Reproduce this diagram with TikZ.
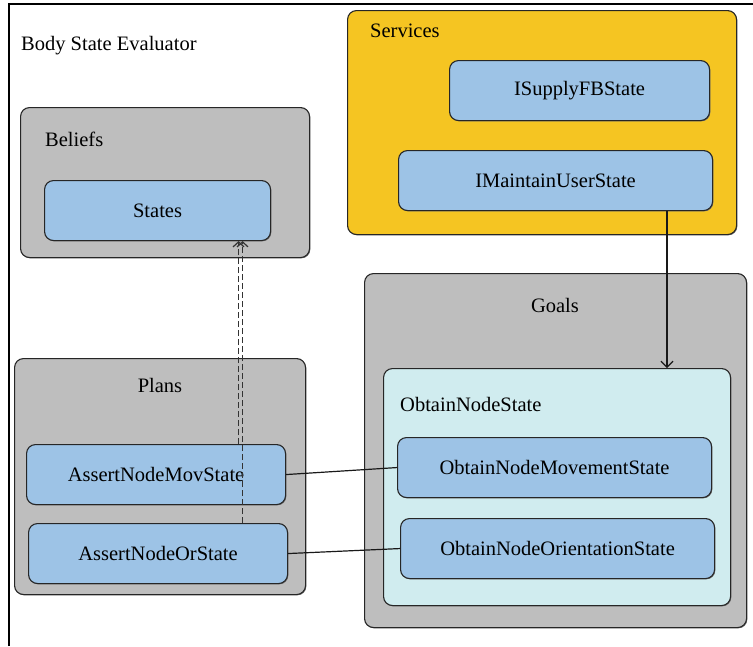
\documentclass[tikz,border=0pt]{standalone}
\usepackage{fontspec}
\setmainfont{Liberation Serif}
\usetikzlibrary{arrows.meta,shadows}
\definecolor{groupgray}{HTML}{BEBEBE}
\definecolor{itemblue}{HTML}{9DC3E6}
\definecolor{svcyellow}{HTML}{F5C522}
\definecolor{goalcyan}{HTML}{D0ECEF}
\tikzset{
  base/.style={draw=black!85, line width=1.1pt, rounded corners=9pt, anchor=north west,
    inner sep=0pt, drop shadow={shadow xshift=0.8pt, shadow yshift=-0.8pt, fill=black!55, opacity=1}},
  group/.style={base, fill=groupgray},
  item/.style={base, fill=itemblue, align=center},
  txt/.style={inner sep=0pt},
  link/.style={draw=black!90, line width=1.2pt},
  dep/.style={draw=black!80, line width=1.2pt, dash pattern=on 6pt off 3pt, -{Straight Barb[length=5pt,width=11pt]}},
  every node/.append style={font=\fontsize{20.5}{24}\selectfont}
}
\begin{document}
\begin{tikzpicture}[x=1pt,y=-1pt]
\useasboundingbox (0,0) rectangle (753,646);
% evaluator frame (open at right and bottom)
\draw[line width=1.2pt] (9,646) -- (9,4) -- (753,4);
\node[txt, anchor=west] (title) at (21,46) {Body State Evaluator};

% beliefs
\node[group, minimum width=289, minimum height=150] (beliefs) at (20,107) {};
\node[txt, anchor=west] (beliefsl) at (45,139) {Beliefs};
\node[item, minimum width=226, minimum height=60] (states) at (44,180) {};
\node[txt] at (states.center) {States};

% services
\node[base, fill=svcyellow, minimum width=389, minimum height=224] (services) at (347,10) {};
\node[txt, anchor=west] (servicesl) at (370,31) {Services};
\node[item, minimum width=260, minimum height=60] (supply) at (449,60) {};
\node[txt] at (supply.center) {ISupplyFBState};
\node[item, minimum width=314, minimum height=60] (maintain) at (398,150) {};
\node[txt] at (maintain.center) {IMaintainUserState};

% goals
\node[group, minimum width=382, minimum height=354] (goals) at (364,273) {};
\node[txt] (goalsl) at (555,305) {Goals};
\node[base, fill=goalcyan, minimum width=347, minimum height=237] (obtain) at (383,368) {};
\node[txt, anchor=west] (obtainl) at (400,404) {ObtainNodeState};
\node[item, minimum width=314, minimum height=60] (omov) at (397,437) {};
\node[txt] at (omov.center) {ObtainNodeMovementState};
\node[item, minimum width=314, minimum height=60] (oor) at (400,518) {};
\node[txt] at (oor.center) {ObtainNodeOrientationState};

% plans
\node[group, minimum width=291, minimum height=236] (plans) at (14,358) {};
\node[txt] (plansl) at (160,385) {Plans};
\node[item, minimum width=259, minimum height=60] (amov) at (26,444) {};
\node[txt] at (amov.center) {AssertNodeMovState};
\node[item, minimum width=259, minimum height=60] (aor) at (28,523) {};
\node[txt] at (aor.center) {AssertNodeOrState};

% connectors
\draw[link] (amov.east) -- (omov.west);
\draw[link] (aor.east) -- (oor.west);
\draw[link, -{Straight Barb[length=6pt,width=12pt]}] (maintain.south -| 667,0) -- (obtain.north -| 667,0);
\draw[dep] ([xshift=82.5pt]amov.north) -- ([xshift=81pt]states.south);
\draw[dep] ([xshift=84.5pt]aor.north) -- ([xshift=85pt]states.south);
\end{tikzpicture}
\end{document}
